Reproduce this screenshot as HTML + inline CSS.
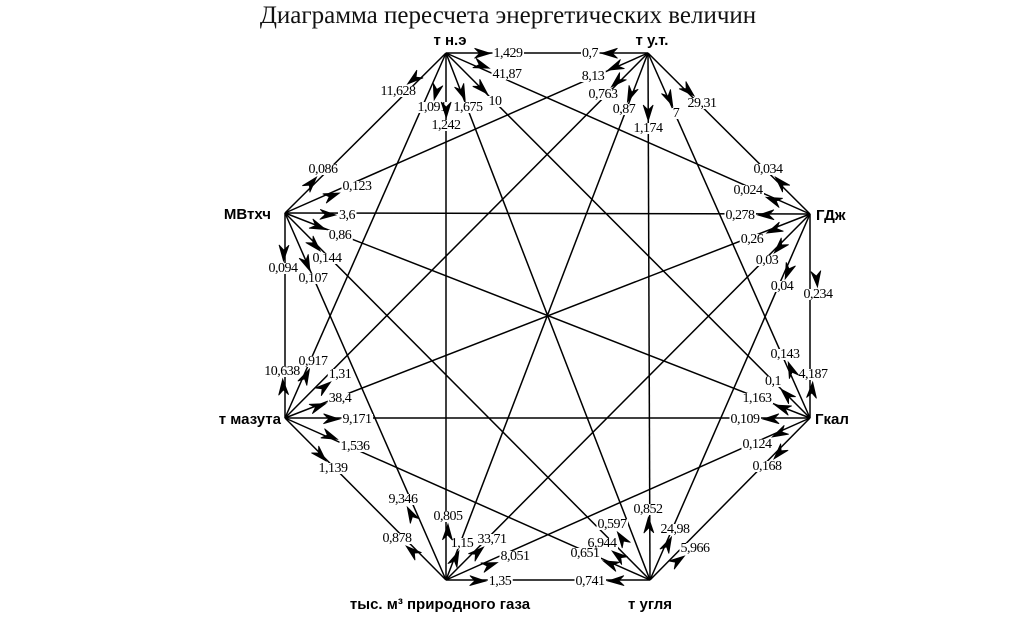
<!DOCTYPE html>
<html><head><meta charset="utf-8"><style>
html,body{margin:0;padding:0;background:#fff;}
svg{display:block}
.t{font-family:"Liberation Serif",serif;font-size:14px;letter-spacing:-0.5px;text-anchor:middle;fill:#000}
.nd{font-family:"Liberation Sans",sans-serif;font-weight:bold;font-size:15px;fill:#000}
.title{font-family:"Liberation Serif",serif;font-size:25px;fill:#111;text-anchor:middle}
</style></head><body>
<svg id="s" width="1010" height="627" viewBox="0 0 1010 627">
<g id="lines" stroke="#000" stroke-width="1.5" fill="none"></g>
<g id="bg" fill="#fff"></g>
<g id="arrows" fill="#000" stroke="#000"></g>
<text class="title" x="508" y="23">Диаграмма пересчета энергетических величин</text>
<text class="nd" x="450" y="45" text-anchor="middle">т н.э</text>
<text class="nd" x="652" y="45" text-anchor="middle">т у.т.</text>
<text class="nd" x="816" y="220">ГДж</text>
<text class="nd" x="815" y="424">Гкал</text>
<text class="nd" x="650" y="609" text-anchor="middle">т угля</text>
<text class="nd" x="440" y="609" text-anchor="middle">тыс. м³ природного газа</text>
<text class="nd" x="281" y="424" text-anchor="end">т мазута</text>
<text class="nd" x="271" y="219" text-anchor="end">МВтхч</text>
<g id="labels">
<text class="t n0" x="508" y="57">1,429</text>
<text class="t n0" x="507" y="78">41,87</text>
<text class="t n0" x="495" y="105">10</text>
<text class="t n0" x="468" y="111">1,675</text>
<text class="t n0" x="446" y="129">1,242</text>
<text class="t n0" x="432" y="111">1,091</text>
<text class="t n0" x="398" y="95">11,628</text>
<text class="t n1" x="590" y="57">0,7</text>
<text class="t n1" x="593" y="80">8,13</text>
<text class="t n1" x="603" y="98">0,763</text>
<text class="t n1" x="624" y="113">0,87</text>
<text class="t n1" x="648" y="132">1,174</text>
<text class="t n1" x="676" y="117">7</text>
<text class="t n1" x="702" y="107">29,31</text>
<text class="t n2" x="768" y="173">0,034</text>
<text class="t n2" x="748" y="194">0,024</text>
<text class="t n2" x="740" y="219">0,278</text>
<text class="t n2" x="752" y="243">0,26</text>
<text class="t n2" x="767" y="264">0,03</text>
<text class="t n2" x="782" y="290">0,04</text>
<text class="t n2" x="818" y="298">0,234</text>
<text class="t n3" x="785" y="358">0,143</text>
<text class="t n3" x="813" y="378">4,187</text>
<text class="t n3" x="773" y="385">0,1</text>
<text class="t n3" x="757" y="402">1,163</text>
<text class="t n3" x="745" y="423">0,109</text>
<text class="t n3" x="757" y="448">0,124</text>
<text class="t n3" x="767" y="470">0,168</text>
<text class="t n4" x="590" y="585">0,741</text>
<text class="t n4" x="585" y="557">0,651</text>
<text class="t n4" x="602" y="547">6,944</text>
<text class="t n4" x="612" y="528">0,597</text>
<text class="t n4" x="648" y="513">0,852</text>
<text class="t n4" x="675" y="533">24,98</text>
<text class="t n4" x="695" y="552">5,966</text>
<text class="t n5" x="500" y="585">1,35</text>
<text class="t n5" x="515" y="560">8,051</text>
<text class="t n5" x="492" y="543">33,71</text>
<text class="t n5" x="462" y="547">1,15</text>
<text class="t n5" x="448" y="520">0,805</text>
<text class="t n5" x="403" y="503">9,346</text>
<text class="t n5" x="397" y="542">0,878</text>
<text class="t n6" x="282" y="375">10,638</text>
<text class="t n6" x="313" y="365">0,917</text>
<text class="t n6" x="340" y="378">1,31</text>
<text class="t n6" x="340" y="402">38,4</text>
<text class="t n6" x="357" y="423">9,171</text>
<text class="t n6" x="355" y="450">1,536</text>
<text class="t n6" x="333" y="472">1,139</text>
<text class="t n7" x="323" y="173">0,086</text>
<text class="t n7" x="357" y="190">0,123</text>
<text class="t n7" x="347" y="219">3,6</text>
<text class="t n7" x="340" y="239">0,86</text>
<text class="t n7" x="327" y="262">0,144</text>
<text class="t n7" x="313" y="282">0,107</text>
<text class="t n7" x="283" y="272">0,094</text>
</g>
</svg>
<script>
var N=[[446,53],[648,53],[810,214],[810,418],[650,580],[446,580],[285,418],[285,213]];
var ns="http://www.w3.org/2000/svg";
var L=document.getElementById("lines"),A=document.getElementById("arrows"),B=document.getElementById("bg");
for(var i=0;i<8;i++)for(var j=i+1;j<8;j++){
 var l=document.createElementNS(ns,"line");
 l.setAttribute("x1",N[i][0]);l.setAttribute("y1",N[i][1]);
 l.setAttribute("x2",N[j][0]);l.setAttribute("y2",N[j][1]);L.appendChild(l);}
var T=document.querySelectorAll("#labels text");
for(var k=0;k<T.length;k++){
 var t=T[k],n=+t.getAttribute("class").match(/n(\d)/)[1];
 var b=t.getBBox(),cx=b.x+b.width/2,cy=b.y+b.height/2;
 var r=document.createElementNS(ns,"rect");
 r.setAttribute("x",b.x-1);r.setAttribute("y",b.y+2);r.setAttribute("width",b.width+2);r.setAttribute("height",b.height-4);
 B.appendChild(r);
 var p=N[n],dx=cx-p[0],dy=cy-p[1],len=Math.hypot(dx,dy),ux=dx/len,uy=dy/len;
 var hw=b.width/2+3,hh=b.height/2;
 var tt=Math.min(Math.abs(ux)>1e-6?hw/Math.abs(ux):1e9,Math.abs(uy)>1e-6?hh/Math.abs(uy):1e9);
 var tx=cx-ux*tt,ty=cy-uy*tt;
 var bx=tx-ux*16,by=ty-uy*16,px=-uy*5,py=ux*5;
 var pg=document.createElementNS(ns,"polygon");
 pg.setAttribute("points",tx+","+ty+" "+(bx+px)+","+(by+py)+" "+(tx-ux*11)+","+(ty-uy*11)+" "+(bx-px)+","+(by-py));
 pg.setAttribute("stroke-width","0.8");
 A.appendChild(pg);}
</script>
</body></html>
